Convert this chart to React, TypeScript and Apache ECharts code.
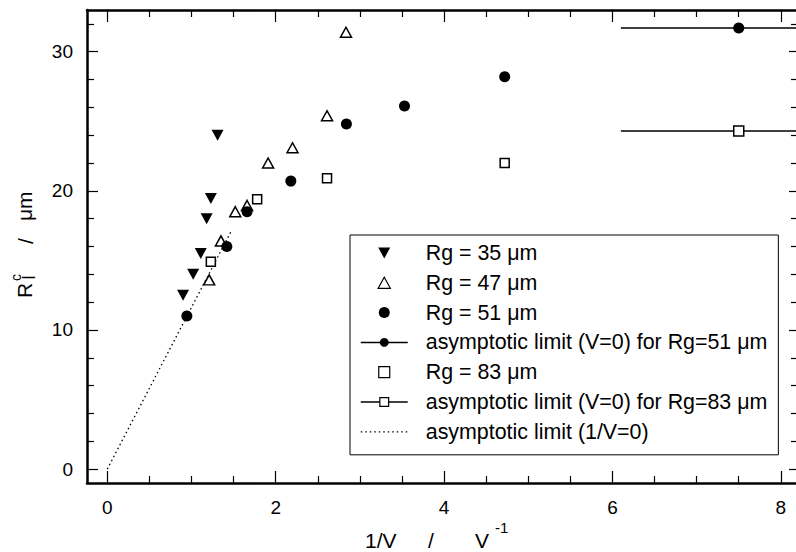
import React, { useEffect, useRef } from "react";
import * as echarts from "echarts";

// ---- data ----
const rg35X = [0.90, 1.02, 1.11, 1.18, 1.23, 1.31];
const rg35Y = [12.5, 14.0, 15.5, 18.0, 19.45, 24.0];

const rg47X = [1.21, 1.35, 1.52, 1.66, 1.91, 2.20, 2.61, 2.835];
const rg47Y = [13.6, 16.4, 18.5, 18.95, 22.0, 23.1, 25.4, 31.4];

const rg51X = [0.945, 1.42, 1.66, 2.18, 2.84, 3.53, 4.72];
const rg51Y = [11.0, 16.0, 18.5, 20.7, 24.8, 26.1, 28.2];

const rg83X = [1.23, 1.78, 2.61, 4.72];
const rg83Y = [14.9, 19.4, 20.9, 22.0];

// asymptotic limits (V=0): horizontal line start, marker, end
const asym51X = [6.1, 7.5, 8.18];
const asym51Y = [31.7, 31.7, 31.7];
const asym83X = [6.1, 7.5, 8.18];
const asym83Y = [24.3, 24.3, 24.3];

// asymptotic limit (1/V=0)
const limitX = [0, 1.48];
const limitY = [0, 17.2];

const seriesNames = [
  "Rg = 35 \u03bcm",
  "Rg = 47 \u03bcm",
  "Rg = 51 \u03bcm",
  "asymptotic limit (V=0) for Rg=51 \u03bcm",
  "Rg = 83 \u03bcm",
  "asymptotic limit (V=0) for Rg=83 \u03bcm",
  "asymptotic limit (1/V=0)",
];

const xMajorTicks = [0, 2, 4, 6, 8];
const xMinorTicks = [0.5, 1, 1.5, 2.5, 3, 3.5, 4.5, 5, 5.5, 6.5, 7, 7.5];
const yMajorTicks = [0, 10, 20, 30];
const yMinorTicks = [2, 4, 6, 8, 12, 14, 16, 18, 22, 24, 26, 28, 32];

const X_MIN = -0.241;
const X_MAX = 8.18;
const Y_MIN = -1;
const Y_MAX = 33;

const FONT = "'Liberation Sans', Arial, Helvetica, sans-serif";

const zip = (xs: number[], ys: number[]) => xs.map((x, i) => [x, ys[i]]);

export default function App() {
  const ref = useRef<HTMLDivElement>(null);

  useEffect(() => {
    if (!ref.current) return;
    const chart = echarts.init(ref.current, undefined, { renderer: "svg" });

    const baseX = (position: string, major: boolean, showLine: boolean, showLabel: boolean) => ({
      type: "value",
      position,
      min: X_MIN,
      max: X_MAX,
      axisLine: { show: showLine, onZero: false, lineStyle: { color: "#000", width: 2.5 } },
      axisTick: {
        show: true,
        inside: true,
        length: major ? 12 : 7,
        customValues: major ? xMajorTicks : xMinorTicks,
        lineStyle: { color: "#000", width: 1.2 },
      },
      axisLabel: {
        show: showLabel,
        customValues: xMajorTicks,
        color: "#000",
        fontFamily: FONT,
        fontSize: 19,
        margin: 15,
      },
      splitLine: { show: false },
    });

    const baseY = (position: string, major: boolean, showLine: boolean, showLabel: boolean, len: number) => ({
      type: "value",
      position,
      min: Y_MIN,
      max: Y_MAX,
      axisLine: { show: showLine, onZero: false, lineStyle: { color: "#000", width: 2.5 } },
      axisTick: {
        show: true,
        inside: true,
        length: len,
        customValues: major ? yMajorTicks : yMinorTicks,
        lineStyle: { color: "#000", width: 1.2 },
      },
      axisLabel: {
        show: showLabel,
        customValues: yMajorTicks,
        color: "#000",
        fontFamily: FONT,
        fontSize: 19,
        margin: 14,
      },
      splitLine: { show: false },
    });

    const openStyle = { color: "#fff", borderColor: "#000", borderWidth: 1.2, opacity: 1 };

    const option: any = {
      animation: false,
      backgroundColor: "#fff",
      textStyle: { fontFamily: FONT },
      grid: {
        left: 87,
        right: 0,
        top: 10,
        bottom: 69,
        containLabel: false,
        outerBoundsMode: "none",
      },
      xAxis: [
        baseX("bottom", true, true, true),
        baseX("bottom", false, false, false),
        baseX("top", true, true, false),
        baseX("top", false, false, false),
      ],
      yAxis: [
        baseY("left", true, true, true, 11),
        baseY("left", false, false, false, 7),
        baseY("right", true, false, false, 7),
        baseY("right", false, false, false, 5),
      ],
      legend: {
        orient: "vertical",
        left: 350,
        top: 235,
        padding: [7, 11, 12, 10],
        itemWidth: 47,
        itemHeight: 11,
        itemGap: 7.8,
        symbolKeepAspect: true,
        borderColor: "#000",
        borderWidth: 1,
        backgroundColor: "#fff",
        selectedMode: false,
        textStyle: {
          fontFamily: FONT,
          fontSize: 21.4,
          color: "#000",
          lineHeight: 22,
          padding: [0, 0, 0, 13],
        },
        data: [
          { name: seriesNames[0], icon: "path://M0,0L12,0L6,11Z", itemStyle: { color: "#000", opacity: 1 } },
          { name: seriesNames[1], icon: "path://M5,0L10,9L0,9Z", itemStyle: openStyle },
          { name: seriesNames[2], icon: "circle", itemStyle: { color: "#000", opacity: 1 } },
          { name: seriesNames[3], lineStyle: { width: 1.5 } },
          { name: seriesNames[4], icon: "path://M0,0L8,0L8,8L0,8Z", itemStyle: openStyle },
          {
            name: seriesNames[5],
            itemStyle: { color: "#fff", borderColor: "#000", borderWidth: 1.2 },
            lineStyle: { width: 1.5 },
          },
          {
            name: seriesNames[6],
            itemStyle: { opacity: 0, color: "rgba(0,0,0,0)", borderWidth: 0 },
            lineStyle: { width: 1.2 },
          },
        ],
      },
      series: [
        {
          name: seriesNames[0],
          type: "scatter",
          data: zip(rg35X, rg35Y),
          symbol: "triangle",
          symbolRotate: 180,
          symbolSize: [12, 11],
          itemStyle: { color: "#000", opacity: 1 },
          z: 3,
        },
        {
          name: seriesNames[1],
          type: "scatter",
          data: zip(rg47X, rg47Y),
          symbol: "triangle",
          symbolSize: [11, 10],
          itemStyle: { color: "#fff", borderColor: "#000", borderWidth: 1.5, opacity: 1 },
          z: 3,
        },
        {
          name: seriesNames[2],
          type: "scatter",
          data: zip(rg51X, rg51Y),
          symbol: "circle",
          symbolSize: 11,
          itemStyle: { color: "#000", opacity: 1 },
          z: 3,
        },
        {
          name: seriesNames[3],
          type: "line",
          data: zip(asym51X, asym51Y).map((p, i) =>
            i === 1 ? { value: p } : { value: p, symbol: "none" }
          ),
          symbol: "circle",
          symbolSize: 11,
          showSymbol: true,
          color: "#000",
          lineStyle: { color: "#000", width: 1.5 },
          itemStyle: { color: "#000", opacity: 1 },
          z: 3,
        },
        {
          name: seriesNames[4],
          type: "scatter",
          data: zip(rg83X, rg83Y),
          symbol: "rect",
          symbolSize: 9,
          itemStyle: { color: "#fff", borderColor: "#000", borderWidth: 1.5, opacity: 1 },
          z: 3,
        },
        {
          name: seriesNames[5],
          type: "line",
          data: zip(asym83X, asym83Y).map((p, i) =>
            i === 1 ? { value: p } : { value: p, symbol: "none" }
          ),
          symbol: "rect",
          symbolSize: 10,
          showSymbol: true,
          color: "#000",
          lineStyle: { color: "#000", width: 1.5 },
          itemStyle: { color: "#fff", borderColor: "#000", borderWidth: 1.5, opacity: 1 },
          z: 3,
        },
        {
          name: seriesNames[6],
          type: "line",
          data: zip(limitX, limitY),
          symbol: "none",
          color: "#000",
          lineStyle: { color: "#000", width: 1.3, type: [1.5, 3] },
          z: 2,
        },
      ],
      graphic: [
        // x axis title: 1/V  /  V^-1
        {
          type: "text",
          x: 365,
          y: 540,
          style: { text: "1/V", font: `21px ${FONT}`, fill: "#000", textAlign: "left", textVerticalAlign: "middle", verticalAlign: "middle" },
        },
        {
          type: "text",
          x: 431,
          y: 540,
          style: { text: "/", font: `21px ${FONT}`, fill: "#000", textAlign: "center", textVerticalAlign: "middle", verticalAlign: "middle" },
        },
        {
          type: "text",
          x: 475,
          y: 540,
          style: { text: "V", font: `21px ${FONT}`, fill: "#000", textAlign: "left", textVerticalAlign: "middle", verticalAlign: "middle" },
        },
        {
          type: "text",
          x: 495,
          y: 527,
          style: { text: "-1", font: `15px ${FONT}`, fill: "#000", textAlign: "left", textVerticalAlign: "middle", verticalAlign: "middle" },
        },
        // y axis title: R_I^c  /  μm (rotated)
        {
          type: "text",
          x: 24,
          y: 298,
          rotation: Math.PI / 2,
          style: { text: "R", font: `21px ${FONT}`, fill: "#000", textAlign: "left", textVerticalAlign: "middle", verticalAlign: "middle" },
        },
        {
          type: "text",
          x: 16,
          y: 281,
          rotation: Math.PI / 2,
          style: { text: "c", font: `14px ${FONT}`, fill: "#000", textAlign: "left", textVerticalAlign: "middle", verticalAlign: "middle" },
        },
        {
          type: "text",
          x: 29,
          y: 280,
          rotation: Math.PI / 2,
          style: { text: "I", font: `18px ${FONT}`, fill: "#000", textAlign: "left", textVerticalAlign: "middle", verticalAlign: "middle" },
        },
        {
          type: "text",
          x: 25,
          y: 241,
          rotation: Math.PI / 2,
          style: { text: "/", font: `21px ${FONT}`, fill: "#000", textAlign: "center", textVerticalAlign: "middle", verticalAlign: "middle" },
        },
        {
          type: "text",
          x: 24,
          y: 221,
          rotation: Math.PI / 2,
          style: { text: "\u03bcm", font: `21px ${FONT}`, fill: "#000", textAlign: "left", textVerticalAlign: "middle", verticalAlign: "middle" },
        },
      ],
    };

    chart.setOption(option);
    return () => chart.dispose();
  }, []);

  return (
    <div
      ref={ref}
      style={{ position: "absolute", left: 0, top: 0, width: 796, height: 552 }}
    />
  );
}
